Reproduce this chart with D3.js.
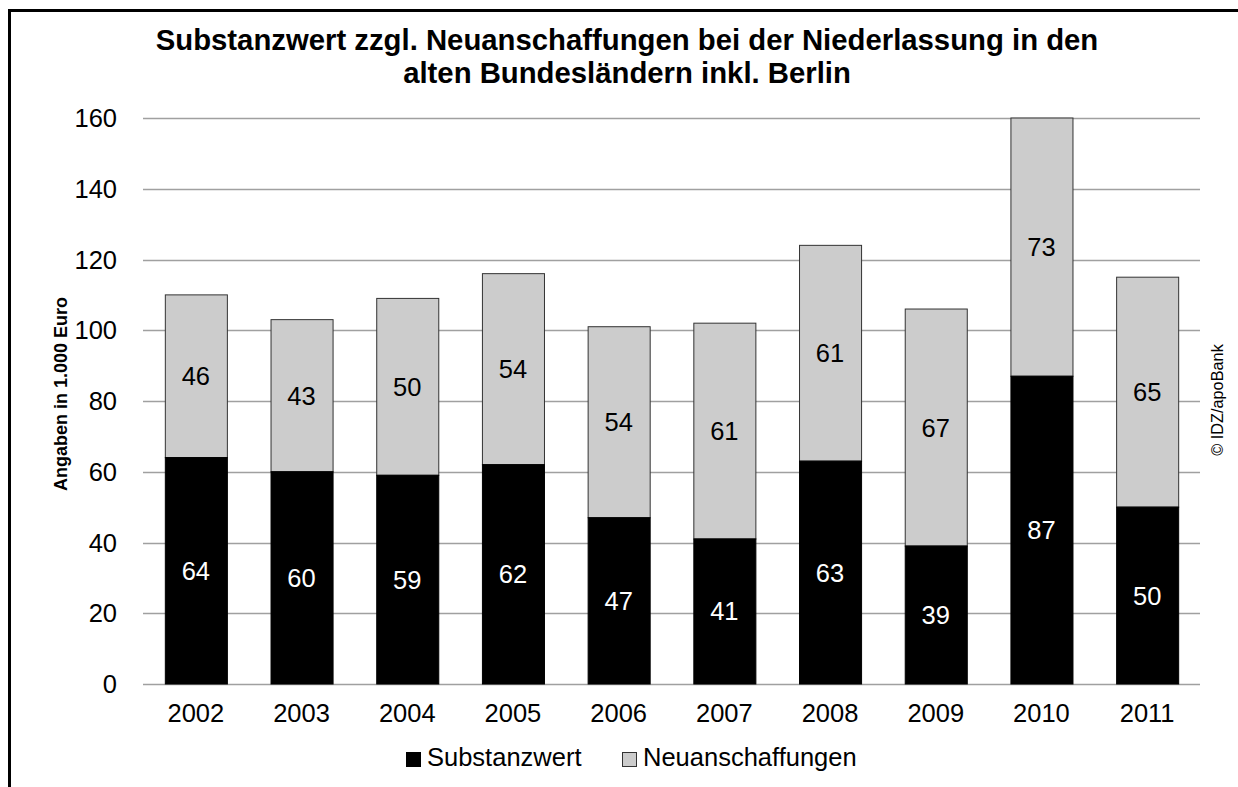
<!DOCTYPE html>
<html><head><meta charset="utf-8">
<script src="https://cdn.jsdelivr.net/npm/d3@7"></script>
<style>body{margin:0;background:#fff}svg{display:block;font-family:"Liberation Sans",Arial,sans-serif}</style>
</head><body>
<script>
const years = ["2002","2003","2004","2005","2006","2007","2008","2009","2010","2011"];
const substanzwert = [64,60,59,62,47,41,63,39,87,50];
const neuanschaffungen = [46,43,50,54,54,61,61,67,73,65];
const yTicks = [0,20,40,60,80,100,120,140,160];
const titleLines = ["Substanzwert zzgl. Neuanschaffungen bei der Niederlassung in den","alten Bundesländern inkl. Berlin"];
const seriesNames = ["Substanzwert","Neuanschaffungen"];

const W = 1238, H = 787;
const svg = d3.select("body").append("svg").attr("width", W).attr("height", H);

// border
svg.append("rect").attr("x", 9.5).attr("y", 10.5).attr("width", 1300).attr("height", 900)
  .attr("fill", "none").attr("stroke", "#000").attr("stroke-width", 3);

const x = d3.scaleBand().domain(years).range([143, 1200]).paddingInner(0.413).paddingOuter(0.2065);
const y = d3.scaleLinear().domain([0, 160]).range([684, 118]);

// gridlines
svg.append("g").selectAll("line").data(yTicks).join("line")
  .attr("x1", 143).attr("x2", 1200)
  .attr("y1", d => Math.round(y(d)) + 0.5).attr("y2", d => Math.round(y(d)) + 0.5)
  .attr("stroke", "#a0a0a0").attr("stroke-width", 1.3);

// y tick labels
svg.append("g").selectAll("text").data(yTicks).join("text")
  .attr("x", 117).attr("y", d => y(d) + 9)
  .attr("text-anchor", "end").attr("font-size", 25.5).attr("fill", "#000").text(d => d);

// bars
const data = years.map((yr, i) => ({yr, a: substanzwert[i], b: neuanschaffungen[i]}));
const g = svg.append("g");
g.selectAll("rect.b").data(data).join("rect").attr("class", "b")
  .attr("x", d => x(d.yr) + 0.5).attr("width", x.bandwidth())
  .attr("y", d => y(d.a + d.b)).attr("height", d => y(d.a) - y(d.a + d.b))
  .attr("fill", "#cccccc").attr("stroke", "#333").attr("stroke-width", 1);
g.selectAll("rect.a").data(data).join("rect").attr("class", "a")
  .attr("x", d => x(d.yr) + 0.5).attr("width", x.bandwidth())
  .attr("y", d => y(d.a)).attr("height", d => y(0) - y(d.a))
  .attr("fill", "#000").attr("stroke", "#000").attr("stroke-width", 1);

// value labels
g.selectAll("text.la").data(data).join("text").attr("class", "la")
  .attr("x", d => x(d.yr) + x.bandwidth() / 2).attr("y", d => y(d.a / 2) + 9)
  .attr("text-anchor", "middle").attr("font-size", 25.5).attr("fill", "#fff").text(d => d.a);
g.selectAll("text.lb").data(data).join("text").attr("class", "lb")
  .attr("x", d => x(d.yr) + x.bandwidth() / 2).attr("y", d => y(d.a + d.b / 2) + 9)
  .attr("text-anchor", "middle").attr("font-size", 25.5).attr("fill", "#000").text(d => d.b);

// x labels
svg.append("g").selectAll("text").data(years).join("text")
  .attr("x", d => x(d) + x.bandwidth() / 2).attr("y", 722)
  .attr("text-anchor", "middle").attr("font-size", 25.5).attr("fill", "#000").text(d => d);

// title
svg.append("g").selectAll("text").data(titleLines).join("text")
  .attr("x", 627).attr("y", (d, i) => 50 + i * 33)
  .attr("text-anchor", "middle").attr("font-size", 29.3).attr("font-weight", "bold").text(d => d);

// y axis title
svg.append("text").attr("transform", "translate(67,394) rotate(-90)")
  .attr("text-anchor", "middle").attr("font-size", 18).attr("font-weight", "bold").text("Angaben in 1.000 Euro");

// copyright
svg.append("text").attr("transform", "translate(1223,400) rotate(-90)")
  .attr("text-anchor", "middle").attr("font-size", 16.3).text("© IDZ/apoBank");

// legend
const leg = [{name: seriesNames[0], x: 406, fill: "#000", stroke: "#000"}, {name: seriesNames[1], x: 622, fill: "#cccccc", stroke: "#333"}];
const lg = svg.append("g").selectAll("g").data(leg).join("g");
lg.append("rect").attr("x", d => d.x + 0.5).attr("y", 752.5).attr("width", 14).attr("height", 14)
  .attr("fill", d => d.fill).attr("stroke", d => d.stroke).attr("stroke-width", 1);
lg.append("text").attr("x", d => d.x + 21).attr("y", 766).attr("font-size", 25.5).text(d => d.name);
</script>
</body></html>
